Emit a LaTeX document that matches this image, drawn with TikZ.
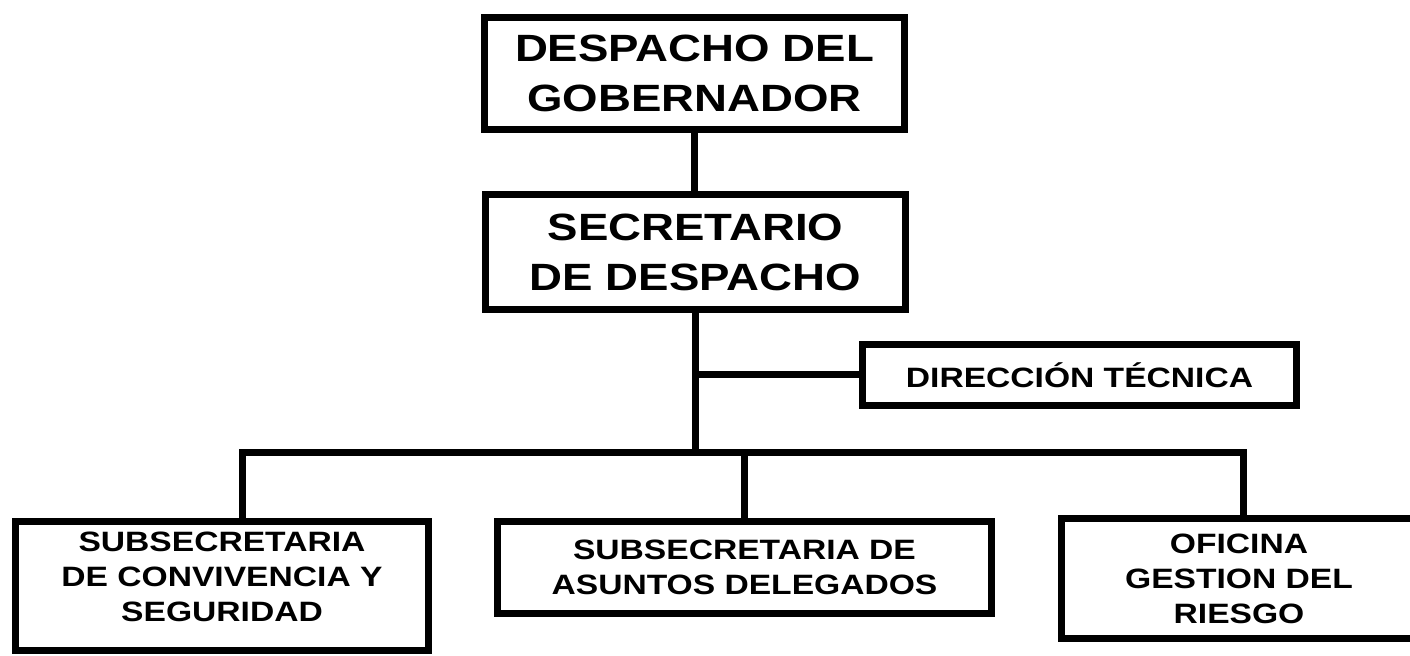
\documentclass[tikz,border=0pt]{standalone}
\usepackage{fontspec}
\setmainfont{Liberation Sans}[FakeStretch=1.2]

\begin{document}
\begin{tikzpicture}[x=0.5pt, y=-0.5pt, line width=3.5pt,
        bigbox/.style={draw, align=center, inner sep=0pt,
            font=\fontsize{19}{25}\selectfont\bfseries},
        smallbox/.style={draw, align=center, inner sep=0pt,
            font=\fontsize{14}{17.5}\selectfont\bfseries}]
        \useasboundingbox (0,0) rectangle (1410,656);
        \node [bigbox, minimum width=210pt, minimum height=56pt] (gob)
            at (694.5,73.5) {DESPACHO DEL\\GOBERNADOR};
        \node [bigbox, minimum width=210pt, minimum height=57.5pt] (sec)
            at (695.5,252) {SECRETARIO\\DE DESPACHO};
        \node [smallbox, minimum width=217pt, minimum height=30.5pt] (dirtec)
            at (1079.5,375) {DIRECCIÓN TÉCNICA};
        \node [smallbox, minimum width=206.5pt, minimum height=64.5pt] (subconv)
            at (222,586) {SUBSECRETARIA\\DE CONVIVENCIA Y\\SEGURIDAD\rule[-9pt]{0pt}{0pt}};
        \node [smallbox, minimum width=247pt, minimum height=46pt] (subasun)
            at (744.5,567.5) {SUBSECRETARIA DE\\ASUNTOS DELEGADOS};
        \node [smallbox, minimum width=177.5pt, minimum height=60pt] (ofiriesgo)
            at (1239,578.5) {OFICINA\\GESTION DEL\\RIESGO};
        \coordinate (busl) at (242,453);
        \coordinate (busr) at (1243,453);
        \draw (gob.south) -- (gob.south |- sec.north);
        \draw (sec.south) -- (sec.south |- busl);
        \draw (sec.south |- dirtec.west) -- (dirtec.west);
        \draw (subconv.north -| busl) -- (busl) -- (busr) -- (busr |- ofiriesgo.north);
        \draw (subasun.north) -- (subasun.north |- busl);
    \end{tikzpicture}
\end{document}
